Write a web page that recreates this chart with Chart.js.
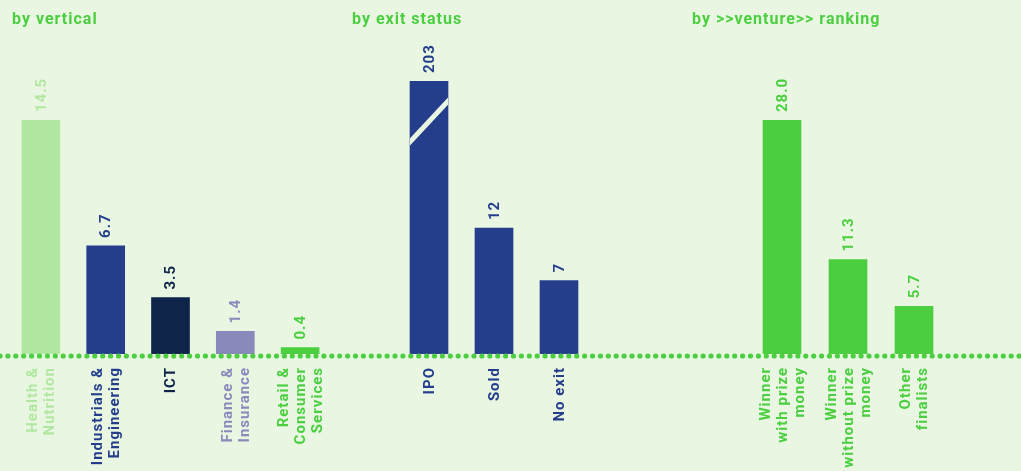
<!DOCTYPE html>
<html>
<head>
<meta charset="utf-8">
<script src="https://cdn.jsdelivr.net/npm/chart.js@4.4.1/dist/chart.umd.min.js"></script>
<style>
  html, body { margin: 0; padding: 0; background: #e9f7e2; }
  #wrap { position: relative; width: 1021px; height: 471px; overflow: hidden; }
  #wrap canvas { position: absolute; top: 0; }
</style>
</head>
<body>
<div id="wrap">
  <canvas id="vertical" width="340" height="471" style="left:0px"></canvas>
  <canvas id="exit" width="340" height="471" style="left:340px"></canvas>
  <canvas id="ranking" width="341" height="471" style="left:680px"></canvas>
</div>
<script>
// panel 1: by vertical
const verticalLabels = [['Health &', 'Nutrition'], ['Industrials &', 'Engineering'], ['ICT'], ['Finance &', 'Insurance'], ['Retail &', 'Consumer', 'Services']];
const verticalValues = [14.5, 6.7, 3.5, 1.4, 0.4];

// panel 2: by exit status (IPO bar is cut at the axis break)
const exitLabels = [['IPO'], ['Sold'], ['No exit']];
const exitValues = [203, 12, 7];
const exitBreak = 26;

// panel 3: by >>venture>> ranking
const rankingLabels = [['Winner', 'with prize', 'money'], ['Winner', 'without prize', 'money'], ['Other', 'finalists']];
const rankingValues = [28.0, 11.3, 5.7];

const BG = '#e9f7e2';
const GREEN = '#4bcf40';
const LIGHT = '#b2e7a1';
const BLUE = '#253e8c';
const NAVY = '#0e2449';
const LILAC = '#8a89bb';
const FONT = "'Roboto', sans-serif";

// draws title, value labels, category labels, dotted baseline, axis break
const panelDecor = {
    id: 'panelDecor',
    afterDatasetsDraw(chart) {
        const o = chart.options.plugins.panelDecor;
        const ctx = chart.ctx;
        const meta = chart.getDatasetMeta(0);
        const zeroY = chart.scales.y.getPixelForValue(0);

        ctx.save();
        ctx.letterSpacing = '1px';

        // title
        ctx.fillStyle = GREEN;
        ctx.font = 'bold 16px ' + FONT;
        ctx.textAlign = 'left';
        ctx.textBaseline = 'alphabetic';
        ctx.fillText(o.title, 12, 24);

        meta.data.forEach((bar, i) => {
            ctx.fillStyle = o.textColors[i];

            // break mark on the cut bar
            if (o.breakIndex === i) {
                const l = bar.x - bar.width / 2, r = bar.x + bar.width / 2;
                ctx.save();
                ctx.beginPath();
                ctx.rect(l, bar.y, bar.width, zeroY - bar.y);
                ctx.clip();
                ctx.strokeStyle = BG;
                ctx.lineWidth = 5;
                ctx.beginPath();
                ctx.moveTo(l - 2, bar.y + 63);
                ctx.lineTo(r + 2, bar.y + 18);
                ctx.stroke();
                ctx.restore();
            }

            // value above the bar
            ctx.save();
            ctx.translate(bar.x, bar.y - 8);
            ctx.rotate(-Math.PI / 2);
            ctx.font = 'bold 15px ' + FONT;
            ctx.textAlign = 'left';
            ctx.textBaseline = 'middle';
            ctx.fillText(o.valueText[i], 0, 1);
            ctx.restore();

            // category label below the axis
            const lines = chart.data.labels[i];
            const lh = 17;
            ctx.save();
            ctx.translate(bar.x - (lines.length - 1) * lh / 2, zeroY + 13);
            ctx.rotate(-Math.PI / 2);
            ctx.font = 'bold 15px ' + FONT;
            ctx.textAlign = 'right';
            ctx.textBaseline = 'middle';
            lines.forEach((t, k) => ctx.fillText(t, 0, k * lh + 1));
            ctx.restore();
        });

        // dotted baseline, phase shared across panels
        const step = 7.9;
        ctx.fillStyle = GREEN;
        for (let x = -(o.offset % step); x < chart.width + 3; x += step) {
            ctx.beginPath();
            ctx.arc(x, zeroY + 2, 2.6, 0, Math.PI * 2);
            ctx.fill();
        }
        ctx.restore();
    }
};

function panel(id, cfg) {
    return new Chart(document.getElementById(id), {
        type: 'bar',
        data: {
            labels: cfg.labels,
            datasets: [{
                data: cfg.values,
                backgroundColor: cfg.colors,
                borderWidth: 0,
                barThickness: 38
            }]
        },
        options: {
            responsive: false,
            animation: false,
            events: [],
            layout: { padding: { left: cfg.left, right: cfg.right, top: cfg.top, bottom: 117 } },
            scales: {
                x: { display: false },
                y: { display: false, min: 0, max: cfg.max }
            },
            plugins: {
                legend: { display: false },
                tooltip: { enabled: false },
                panelDecor: {
                    title: cfg.title,
                    valueText: cfg.valueText,
                    textColors: cfg.textColors,
                    offset: cfg.offset,
                    breakIndex: cfg.breakIndex
                }
            }
        },
        plugins: [panelDecor]
    });
}

panel('vertical', {
    title: 'by vertical',
    labels: verticalLabels,
    values: verticalValues,
    valueText: verticalValues.map(v => v.toFixed(1)),
    colors: [LIGHT, BLUE, NAVY, LILAC, GREEN],
    textColors: [LIGHT, BLUE, NAVY, LILAC, GREEN],
    left: 8.5, right: 7.5, top: 120, max: 14.5, offset: 0
});

panel('exit', {
    title: 'by exit status',
    labels: exitLabels,
    values: exitValues.map(v => Math.min(v, exitBreak)),
    valueText: exitValues.map(v => String(v)),
    colors: [BLUE, BLUE, BLUE],
    textColors: [BLUE, BLUE, BLUE],
    left: 56.5, right: 88.5, top: 81, max: exitBreak, offset: 340,
    breakIndex: 0
});

panel('ranking', {
    title: 'by >>venture>> ranking',
    labels: rankingLabels,
    values: rankingValues,
    valueText: rankingValues.map(v => v.toFixed(1)),
    colors: [GREEN, GREEN, GREEN],
    textColors: [GREEN, GREEN, GREEN],
    left: 69, right: 74, top: 120, max: 28, offset: 680
});
</script>
</body>
</html>
